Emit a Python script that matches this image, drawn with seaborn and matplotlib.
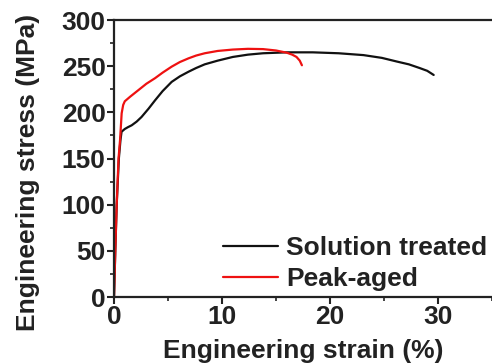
import matplotlib
matplotlib.use("Agg")
import matplotlib.pyplot as plt
import seaborn as sns
import pandas as pd
from matplotlib.ticker import MultipleLocator

# Data
strain_st = [0, 0.12, 0.25, 0.45, 0.6, 0.7, 1.0, 1.3, 1.64, 2.1, 2.55, 3.2, 3.8, 4.5, 5.34, 6.1, 6.9, 7.6, 8.4, 9.6, 11, 12.4, 13.8, 16, 18.4, 20.8, 23.1, 24.8, 26.2, 27.3, 28.3, 29.0, 29.6]
stress_st = [0, 50, 100, 150, 170, 179, 182, 184, 186, 190, 195, 204, 213, 223, 233, 239, 244, 248, 252, 256, 260, 262.5, 264, 265, 265, 264, 262, 259, 255, 252, 248, 245, 240.5]

strain_pa = [0, 0.12, 0.25, 0.42, 0.56, 0.71, 0.85, 1.0, 1.5, 2.25, 3.0, 3.8, 4.5, 5.34, 6.1, 6.9, 7.6, 8.4, 9.6, 11, 12.4, 13.8, 15.0, 16, 16.5, 16.9, 17.2, 17.4]
stress_pa = [0, 50, 100, 150, 170, 199, 208, 212, 217, 224, 231, 237, 243, 249.5, 254.5, 258.5, 261.5, 264, 266.5, 268, 268.8, 268.5, 267, 264.6, 262.5, 260, 256, 251]

labels = ["Solution treated", "Peak-aged"]
colors = ["#111111", "#ee1111"]

df = pd.concat([
    pd.DataFrame({"strain": strain_st, "stress": stress_st, "series": labels[0]}),
    pd.DataFrame({"strain": strain_pa, "stress": stress_pa, "series": labels[1]}),
])

sns.set_style("ticks")
plt.rcParams["font.family"] = ["Liberation Sans", "DejaVu Sans"]
plt.rcParams["font.weight"] = "bold"

fig = plt.figure(figsize=(4.92, 3.64), dpi=100)
ax = fig.add_axes([0.2317, 0.184, 0.7683, 0.761])

sns.lineplot(data=df, x="strain", y="stress", hue="series", palette=dict(zip(labels, colors)),
             sort=False, estimator=None, units="series", linewidth=1.6, ax=ax)

ax.set_xlim(0, 35)
ax.set_ylim(0, 300)
ax.xaxis.set_major_locator(MultipleLocator(10))
ax.xaxis.set_minor_locator(MultipleLocator(5))
ax.yaxis.set_major_locator(MultipleLocator(50))
ax.yaxis.set_minor_locator(MultipleLocator(25))
ax.tick_params(which="major", direction="out", length=5, width=1.5, labelsize=19, pad=1, colors="#222222")
ax.tick_params(which="minor", direction="out", length=3, width=1.2, colors="#222222")
for lab in ax.get_xticklabels() + ax.get_yticklabels():
    lab.set_fontweight("bold")

for s in ["left", "bottom", "top"]:
    ax.spines[s].set_linewidth(1.6)
    ax.spines[s].set_color("#222222")
ax.spines["right"].set_visible(False)

ax.set_xlabel("Engineering strain (%)", fontsize=19, fontweight="bold", color="#222222")
ax.set_ylabel("Engineering stress (MPa)", fontsize=19, fontweight="bold", color="#222222")
ax.yaxis.set_label_coords(-0.195, 0.448)
ax.xaxis.set_label_coords(0.5, -0.15)

leg = ax.legend(loc="lower right", bbox_to_anchor=(1.03, -0.035), frameon=False, fontsize=19,
                handlelength=2.1, handletextpad=0.3, labelspacing=0.25, borderaxespad=0.2)
for t in leg.get_texts():
    t.set_fontweight("bold")
    t.set_color("#222222")
for l in leg.get_lines():
    l.set_linewidth(1.6)

fig.savefig("out.png", dpi=100)
